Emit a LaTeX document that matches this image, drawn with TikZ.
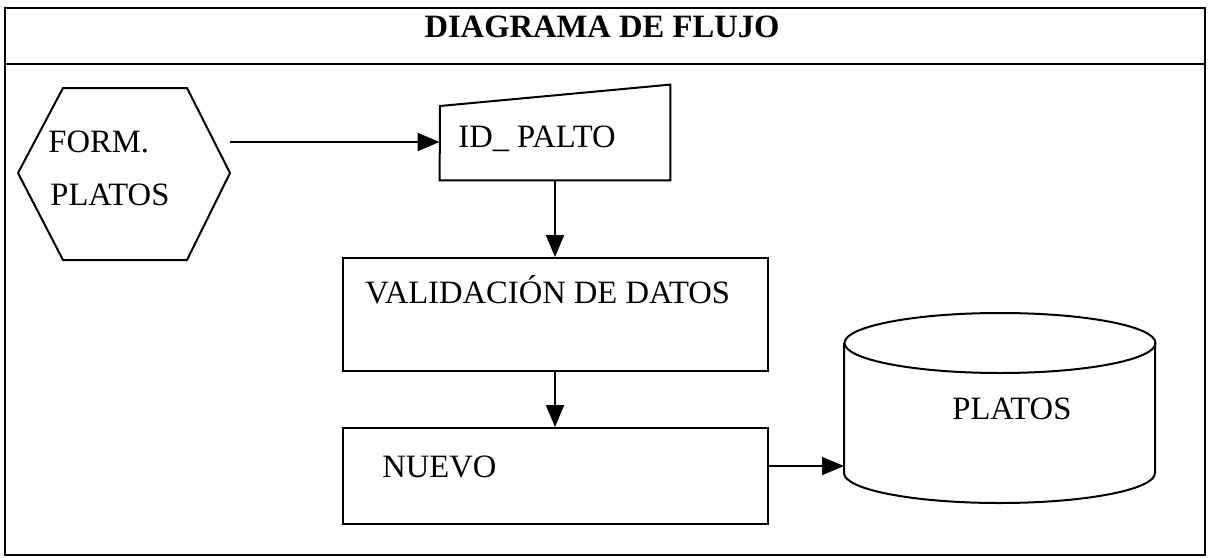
\documentclass[tikz,border=0pt]{standalone}
\usepackage{fontspec}
\setmainfont{Liberation Serif}
\usetikzlibrary{positioning,arrows.meta}

\begin{document}
\begin{tikzpicture}[x=0.5pt,y=-0.5pt]


\tikzset{texto/.style={anchor=base west,inner sep=0pt,font=\fontsize{16.3}{19}\selectfont},}
\tikzset{caja/.style={draw,line width=1pt,inner sep=0pt,minimum width=212.5pt},}
\tikzset{flecha/.style={-{Triangle[length=11pt,width=9pt]}, line width=1pt}}

\useasboundingbox (0,0) rectangle (1210,557);
\draw[line width=0.7pt] (5,8) rectangle (1205,555);
\draw[line width=0.7pt] (5,64) -- (1205,64);

	\draw
		(602,38) node[texto,anchor=base,font=\fontsize{16.3}{19}\selectfont\bfseries] (titulo) {DIAGRAMA DE FLUJO}
		
		(48,152) node[texto] (form) {FORM.}
		(50,205) node[texto] (formb) {PLATOS}
		
		(555,132.5) node[inner sep=0pt,minimum width=115pt,minimum height=47.5pt] (entrada) {}
		(458,147) node[texto] (idtxt) {ID\_ PALTO}
		
		(555,314.5) node[caja,minimum height=56.5pt] (valid) {}
		(365,303) node[texto] (validtxt) {VALIDACIÓN DE DATOS}
		
		(555,476) node[caja,minimum height=48pt] (nuevo) {}
		(382,477) node[texto] (nuevotxt) {NUEVO}
		
		(952,419) node[texto] (platos) {PLATOS}
;

% formulario
\draw[line width=1pt] (63,88) -- (187,88) -- (230,173) -- (187,260) -- (63,260) -- (18,173) -- cycle;
% entrada manual
\draw[line width=1pt] (entrada.south west) -- (entrada.south east) -- (entrada.north east) -- (440,106) -- cycle;
% base de datos
\draw[line width=1pt] (1000,343) ellipse[x radius=155.5, y radius=30];
\draw[line width=1pt] (844,343) -- (844,473) arc[start angle=180, end angle=0, x radius=155.5, y radius=30] -- (1155,343);

\coordinate (hexsal) at (230,142);
\coordinate (cil) at (844,466);

\draw[flecha] (hexsal) -- (entrada.west|-hexsal);
\draw[flecha] (entrada.south) -- (valid.north);
\draw[flecha] (valid.south) -- (nuevo.north);
\draw[flecha] ([yshift=5pt]nuevo.east) -- (cil);

\end{tikzpicture}
\end{document}
